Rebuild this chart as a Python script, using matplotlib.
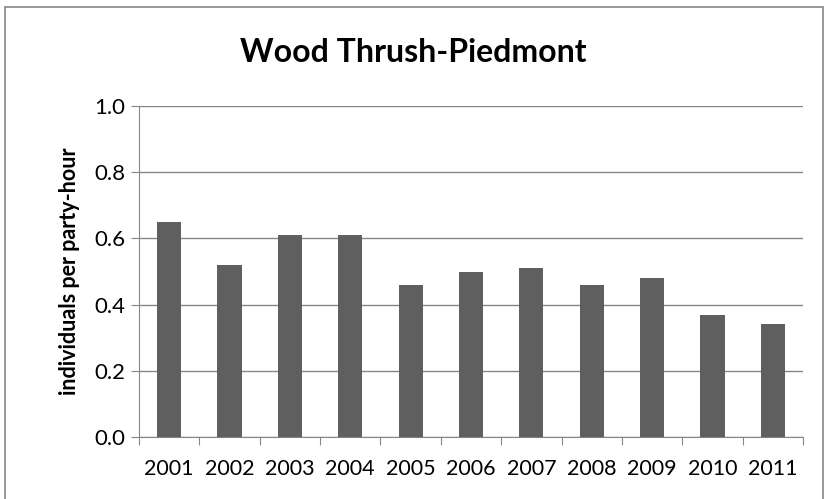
import matplotlib.pyplot as plt
import numpy as np
from matplotlib.patches import Rectangle

years = ['2001', '2002', '2003', '2004', '2005', '2006',
         '2007', '2008', '2009', '2010', '2011']
values = [0.65, 0.52, 0.61, 0.61, 0.46, 0.50, 0.51, 0.46, 0.48, 0.37, 0.34]
y_ticks = [0.0, 0.2, 0.4, 0.6, 0.8, 1.0]

plt.rcParams['font.family'] = ['Lato', 'DejaVu Sans']

fig = plt.figure(figsize=(8.27, 4.99), dpi=100)
ax = fig.add_axes([139 / 827, 1 - 437 / 499, (803 - 139) / 827, (437 - 106) / 499])

# outer chart border
fig.patches.append(Rectangle((5 / 827, -0.01), (823 - 5) / 827, 1 - 7 / 499 + 0.01,
                             transform=fig.transFigure, fill=False,
                             edgecolor='#868686', linewidth=1.2))

x = np.arange(len(years))
ax.bar(x, values, width=0.4, color='#5f5f5f', zorder=3)

ax.set_xlim(-0.5, len(years) - 0.5)
ax.set_ylim(0, 1.0)
ax.set_yticks(y_ticks)
ax.set_yticklabels(['%.1f' % v for v in y_ticks], fontsize=16)
ax.yaxis.grid(True, color='#868686', linewidth=1)
ax.set_axisbelow(True)

# x ticks at category boundaries, labels centered
ax.set_xticks(np.arange(len(years) + 1) - 0.5)
ax.set_xticklabels([])
ax.set_xticks(x, minor=True)
ax.set_xticklabels(years, minor=True, fontsize=15.5)
ax.tick_params(axis='x', which='major', length=6, color='#868686', direction='out')
ax.tick_params(axis='x', which='minor', length=0, pad=16)
ax.tick_params(axis='y', length=6, color='#868686', pad=4)

for side in ['top', 'right']:
    ax.spines[side].set_visible(False)
for side in ['left', 'bottom']:
    ax.spines[side].set_color('#868686')

ax.set_ylabel('individuals per party-hour', fontsize=15.5, fontweight='bold', labelpad=10)
fig.text(0.5, 1 - 52 / 499, 'Wood Thrush-Piedmont', ha='center', va='center',
         fontsize=23, fontweight='bold')

fig.savefig('out.png', dpi=100)
